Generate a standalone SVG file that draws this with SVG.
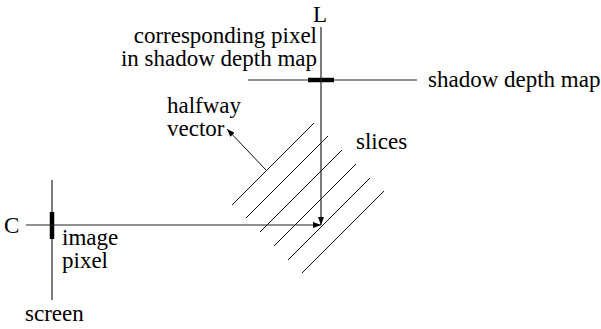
<svg xmlns="http://www.w3.org/2000/svg" width="601" height="329" viewBox="0 0 601 329">
<style>
.t{font-family:"Liberation Serif",serif;font-size:23px;fill:#000}
.ln{stroke:#222;stroke-width:1.2;fill:none}
.sl{stroke:#111;stroke-width:1;fill:none}
.thick{stroke:#000;stroke-width:4.5;fill:none}
</style>
<defs>
<marker id="ah" markerWidth="8" markerHeight="6" refX="8" refY="3" orient="auto" markerUnits="userSpaceOnUse">
<path d="M0,0 L8,3 L0,6 Z" fill="#000"/>
</marker>
</defs>
<rect width="601" height="329" fill="#fff"/>
<g id="screen">
<line class="ln" x1="52" y1="180" x2="52" y2="300"/>
<line class="thick" x1="52" y1="212" x2="52" y2="239"/>
<text class="t" x="25" y="321">screen</text>
</g>
<g id="image-pixel">
<text class="t" x="62" y="245">image</text>
<text class="t" x="62" y="268">pixel</text>
</g>
<g id="camera">
<text class="t" x="4" y="233">C</text>
</g>
<g id="light">
<text class="t" x="313" y="22">L</text>
</g>
<g id="shadow-depth-map">
<line class="ln" x1="248" y1="80" x2="417" y2="80"/>
<line class="thick" x1="308" y1="80" x2="334" y2="80"/>
<text class="t" x="428" y="87">shadow depth map</text>
<text class="t" x="317" y="43" text-anchor="end">corresponding pixel</text>
<text class="t" x="317" y="66" text-anchor="end">in shadow depth map</text>
</g>
<g id="slices">
<line class="sl" x1="232" y1="205" x2="314" y2="123"/>
<line class="sl" x1="246" y1="218" x2="328" y2="136"/>
<line class="sl" x1="260" y1="232" x2="342" y2="150"/>
<line class="sl" x1="274" y1="246" x2="356" y2="164"/>
<line class="sl" x1="288" y1="260" x2="370" y2="178"/>
<line class="sl" x1="302" y1="273" x2="384" y2="191"/>
<text class="t" x="356" y="149">slices</text>
</g>
<g id="halfway-vector">
<text class="t" x="167" y="113">halfway</text>
<text class="t" x="167" y="136">vector</text>
</g>
<g id="connectors">
<line class="ln" x1="321" y1="27" x2="321" y2="225" marker-end="url(#ah)"/>
<line class="ln" x1="26" y1="225" x2="321" y2="225" marker-end="url(#ah)"/>
<line class="sl" x1="266" y1="170" x2="227" y2="129" marker-end="url(#ah)"/>
</g>
</svg>
